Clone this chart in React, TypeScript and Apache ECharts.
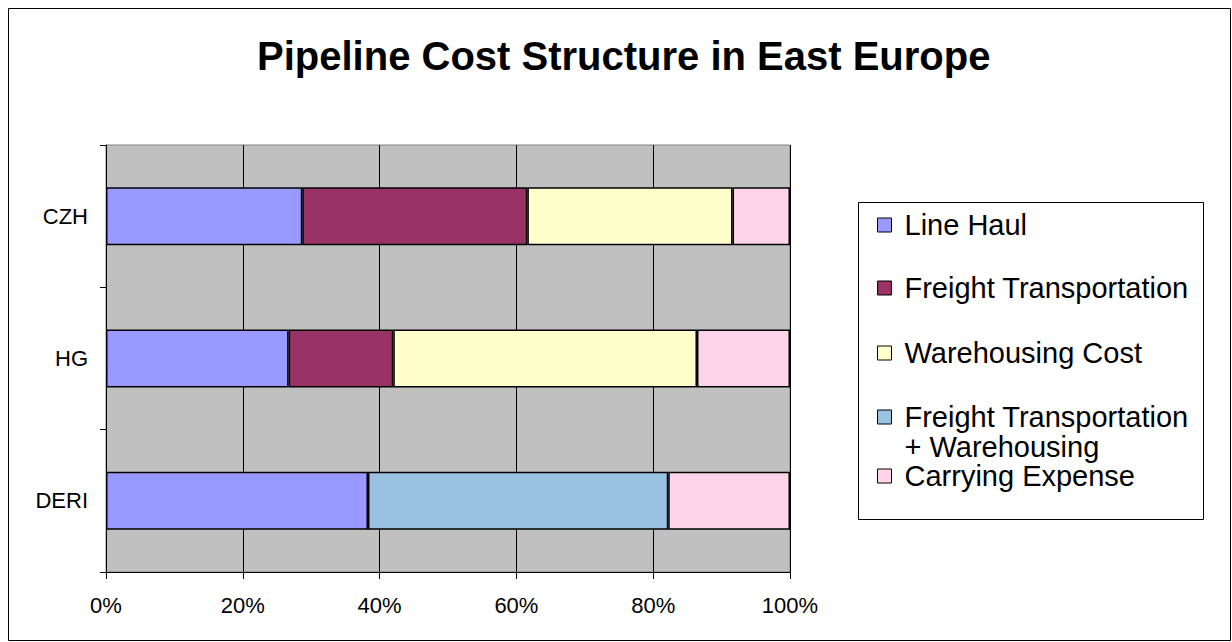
import React, { useEffect, useRef } from 'react';
import * as echarts from 'echarts';

// Cost shares (%) per region, bottom-to-top order of the category axis
const categories = ['DERI', 'HG', 'CZH'];
const lineHaul = [38.3, 26.7, 28.7];
const freightTransportation = [null, 15.3, 32.9];
const warehousingCost = [null, 44.4, 30.0];
const freightPlusWarehousing = [43.9, null, null];
const carryingExpense = [17.8, 13.6, 8.4];

// Percentage axis ticks
const xTicks = [0, 20, 40, 60, 80, 100];

const seriesNames = [
  'Line Haul',
  'Freight Transportation',
  'Warehousing Cost',
  'Freight Transportation\n+ Warehousing',
  'Carrying Expense',
];
const seriesValues = [lineHaul, freightTransportation, warehousingCost, freightPlusWarehousing, carryingExpense];
const seriesColors = ['#9999FF', '#993366', '#FFFFCC', '#99C2E2', '#FFD3E9'];

const FONT = '"Liberation Sans", Arial, sans-serif';

export default function App() {
  const ref = useRef<HTMLDivElement>(null);

  useEffect(() => {
    if (!ref.current) return;
    const chart = echarts.init(ref.current, undefined, { renderer: 'svg' });

    // vertical centre of each legend entry's first text line
    const legendCentres = [225, 288, 353, 417, 476];

    const legends = seriesNames.map((name, i) => {
      const twoLine = name.includes('\n');
      return {
        data: [name],
        orient: 'vertical',
        left: 877,
        top: twoLine ? legendCentres[i] - 45 : legendCentres[i] - 15,
        padding: 0,
        itemWidth: 14,
        itemHeight: 14,
        icon: 'rect',
        selectedMode: false,
        // a leading blank line keeps the first line of a wrapped name level with its swatch
        formatter: (n: string) => (n.includes('\n') ? '\n' + n : n),
        itemStyle: { borderColor: '#000', borderWidth: 1 },
        textStyle: {
          fontSize: 29,
          lineHeight: 30,
          color: '#000',
          fontFamily: FONT,
          padding: [0, 0, 0, 8],
        },
      };
    });

    chart.setOption({
      animation: false,
      backgroundColor: '#fff',
      title: {
        text: 'Pipeline Cost Structure in East Europe',
        left: 257,
        top: 36,
        padding: 0,
        textStyle: { fontSize: 40, fontWeight: 'bold', color: '#000', fontFamily: FONT },
      },
      graphic: [
        {
          type: 'rect',
          shape: { x: 8.5, y: 8.5, width: 1222, height: 632 },
          style: { fill: 'none', stroke: '#000', lineWidth: 1 },
          silent: true,
        },
        {
          type: 'rect',
          shape: { x: 858.5, y: 202.5, width: 345, height: 317 },
          style: { fill: '#fff', stroke: '#000', lineWidth: 1 },
          silent: true,
        },
      ],
      legend: legends,
      grid: {
        left: 106,
        right: 442,
        top: 145,
        bottom: 70,
        show: true,
        backgroundColor: '#C0C0C0',
        borderColor: '#808080',
        borderWidth: 1,
      },
      xAxis: {
        type: 'value',
        min: xTicks[0],
        max: xTicks[xTicks.length - 1],
        interval: xTicks[1] - xTicks[0],
        axisLine: { show: true, lineStyle: { color: '#000', width: 1 } },
        axisTick: { show: true, length: 7, lineStyle: { color: '#000' } },
        splitLine: { show: true, lineStyle: { color: '#000', width: 1 } },
        axisLabel: {
          formatter: (v: number) => `${v}%`,
          fontSize: 22,
          color: '#000',
          margin: 22,
          fontFamily: FONT,
        },
      },
      yAxis: {
        type: 'category',
        data: categories,
        axisLine: { show: true, lineStyle: { color: '#000', width: 1 } },
        axisTick: { show: true, length: 6, lineStyle: { color: '#000' } },
        splitLine: { show: false },
        axisLabel: { fontSize: 22, color: '#000', margin: 18, fontFamily: FONT },
      },
      series: seriesNames.map((name, i) => ({
        name,
        type: 'bar',
        stack: 'share',
        barWidth: 58,
        data: seriesValues[i],
        itemStyle: { color: seriesColors[i], borderColor: '#000', borderWidth: 1.5 },
      })),
    });

    return () => chart.dispose();
  }, []);

  return (
    <div
      ref={ref}
      style={{ position: 'absolute', left: 0, top: 0, width: 1232, height: 642 }}
    />
  );
}
